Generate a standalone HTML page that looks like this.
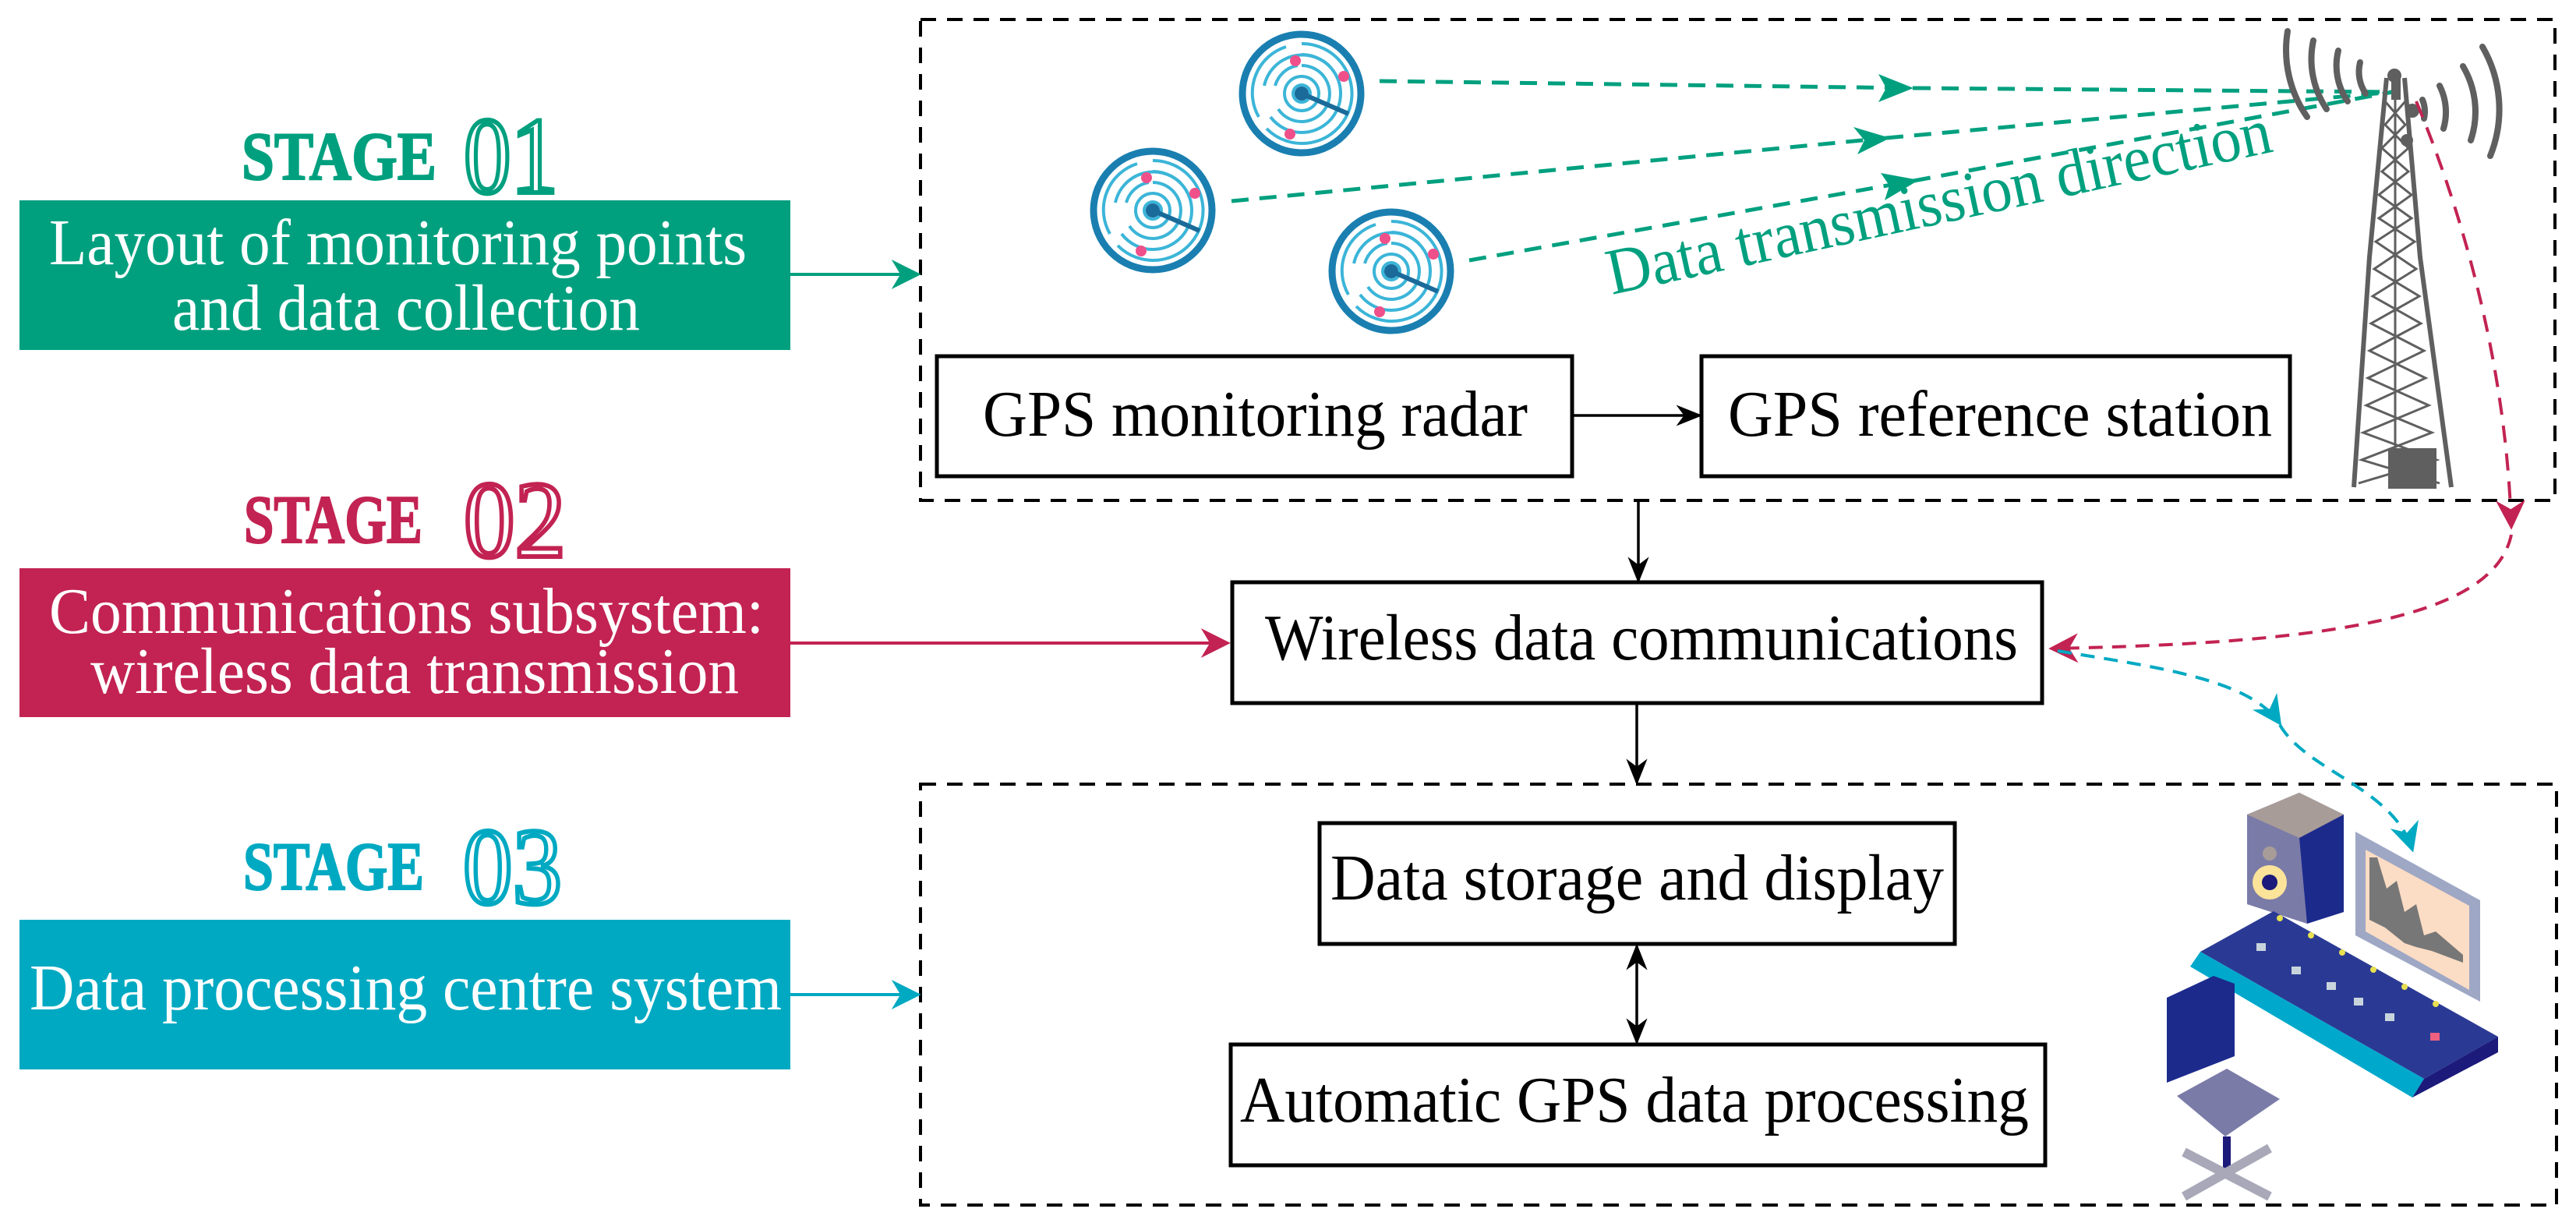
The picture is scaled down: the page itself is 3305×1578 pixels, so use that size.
<!DOCTYPE html>
<html><head><meta charset="utf-8"><style>html,body{margin:0;padding:0;background:#fff}svg{display:block}text{font-family:"Liberation Serif","Times New Roman",serif}</style></head>
<body>
<svg width="3305" height="1578" viewBox="0 0 3305 1578" xmlns="http://www.w3.org/2000/svg">
<defs>
<marker id="akb" viewBox="0 0 10 10" refX="9" refY="5" markerWidth="34" markerHeight="34" orient="auto-start-reverse" markerUnits="userSpaceOnUse"><path d="M0,1 L10,5 L0,9 L3,5 Z" fill="#000"/></marker>
<marker id="ag" viewBox="0 0 10 10" refX="9" refY="5" markerWidth="38" markerHeight="38" orient="auto" markerUnits="userSpaceOnUse"><path d="M0,0 L10,5 L0,10 L3,5 Z" fill="#00a07f"/></marker>
<marker id="ar" viewBox="0 0 10 10" refX="9" refY="5" markerWidth="38" markerHeight="38" orient="auto" markerUnits="userSpaceOnUse"><path d="M0,0 L10,5 L0,10 L3,5 Z" fill="#c22352"/></marker>
<marker id="ac" viewBox="0 0 10 10" refX="9" refY="5" markerWidth="38" markerHeight="38" orient="auto" markerUnits="userSpaceOnUse"><path d="M0,0 L10,5 L0,10 L3,5 Z" fill="#00a9c2"/></marker>
<g id="radar">
<circle r="76" fill="#fff" stroke="#1a7fb0" stroke-width="9"/>
<g fill="none" stroke="#3bb5d8" stroke-width="4">
<path d="M0,-64 A64,64 0 1 1 -45,45"/><path d="M-55,30 A62,62 0 0 1 -20,-60"/>
<path d="M0,-50 A50,50 0 1 1 -40,30"/><path d="M35,-36 A50,50 0 0 0 -48,-10"/>
<path d="M0,-36 A36,36 0 1 1 -30,20"/><path d="M-34,-10 A36,36 0 0 1 -5,-36"/>
<circle r="22"/><circle r="11"/>
</g>
<line x1="0" y1="0" x2="60" y2="26" stroke="#1a6a9a" stroke-width="6"/>
<circle r="9" fill="#1a6a9a"/>
<circle cx="-8" cy="-42" r="7" fill="#f0508a"/><circle cx="54" cy="-22" r="7" fill="#f0508a"/><circle cx="-15" cy="52" r="7" fill="#f0508a"/>
</g>
</defs>

<rect x="1181" y="25" width="2097" height="617" fill="none" stroke="#000" stroke-width="4" stroke-dasharray="20,14"/>
<rect x="1181" y="1006" width="2099" height="540" fill="none" stroke="#000" stroke-width="4" stroke-dasharray="20,14"/>

<rect x="25" y="257" width="989" height="192" fill="#00a07f"/>
<rect x="25" y="729" width="989" height="191" fill="#c22352"/>
<rect x="25" y="1180" width="989" height="192" fill="#00a9c2"/>
<g fill="#fff" font-size="84">
<text x="63" y="339" textLength="895" lengthAdjust="spacingAndGlyphs">Layout of monitoring points</text>
<text x="221" y="423" textLength="600" lengthAdjust="spacingAndGlyphs">and data collection</text>
<text x="63" y="812" textLength="917" lengthAdjust="spacingAndGlyphs">Communications subsystem:</text>
<text x="116" y="889" textLength="832" lengthAdjust="spacingAndGlyphs">wireless data transmission</text>
<text x="38" y="1295" textLength="965" lengthAdjust="spacingAndGlyphs">Data processing centre system</text>
</g>

<g font-weight="bold" font-size="88" stroke-width="2">
<text x="310" y="230" fill="#00a07f" stroke="#00a07f" textLength="250" lengthAdjust="spacingAndGlyphs">STAGE</text>
<text x="313" y="696" fill="#c22352" stroke="#c22352" textLength="229" lengthAdjust="spacingAndGlyphs">STAGE</text>
<text x="312" y="1141" fill="#00a9c2" stroke="#00a9c2" textLength="232" lengthAdjust="spacingAndGlyphs">STAGE</text>
</g>
<g font-size="140" fill="#fff" stroke-width="6">
<text x="595" y="247" stroke="#00a07f" textLength="121" lengthAdjust="spacingAndGlyphs">01</text>
<text x="595" y="714" stroke="#c22352" textLength="131" lengthAdjust="spacingAndGlyphs">02</text>
<text x="594" y="1159" stroke="#00a9c2" textLength="127" lengthAdjust="spacingAndGlyphs">03</text>
</g>

<line x1="1014" y1="352" x2="1178" y2="352" stroke="#00a07f" stroke-width="4" marker-end="url(#ag)"/>
<line x1="1014" y1="825" x2="1575" y2="825" stroke="#c22352" stroke-width="4" marker-end="url(#ar)"/>
<line x1="1014" y1="1276" x2="1178" y2="1276" stroke="#00a9c2" stroke-width="4" marker-end="url(#ac)"/>

<g fill="#fff" stroke="#000" stroke-width="5">
<rect x="1202" y="457" width="815" height="154"/>
<rect x="2183" y="457" width="755" height="154"/>
<rect x="1581" y="747" width="1039" height="155"/>
<rect x="1693" y="1056" width="815" height="155"/>
<rect x="1579" y="1340" width="1045" height="155"/>
</g>
<g font-size="84" fill="#000">
<text x="1261" y="559" textLength="699" lengthAdjust="spacingAndGlyphs">GPS monitoring radar</text>
<text x="2217" y="559" textLength="698" lengthAdjust="spacingAndGlyphs">GPS reference station</text>
<text x="1623" y="846" textLength="966" lengthAdjust="spacingAndGlyphs">Wireless data communications</text>
<text x="1707" y="1154" textLength="787" lengthAdjust="spacingAndGlyphs">Data storage and display</text>
<text x="1591" y="1439" textLength="1012" lengthAdjust="spacingAndGlyphs">Automatic GPS data processing</text>
</g>

<g stroke="#000" stroke-width="3.5" fill="none">
<line x1="2017" y1="533" x2="2181" y2="533" marker-end="url(#akb)"/>
<line x1="2102" y1="643" x2="2102" y2="745" marker-end="url(#akb)"/>
<line x1="2100" y1="903" x2="2100" y2="1004" marker-end="url(#akb)"/>
<line x1="2100" y1="1214" x2="2100" y2="1337" marker-start="url(#akb)" marker-end="url(#akb)"/>
</g>

<use href="#radar" x="1670" y="120"/>
<use href="#radar" x="1479" y="270"/>
<use href="#radar" x="1785" y="348"/>

<g stroke="#00a07f" stroke-width="5" stroke-dasharray="22,14" fill="none">
<line x1="1770" y1="104" x2="2455" y2="113"/>
<line x1="2455" y1="113" x2="3070" y2="118"/>
<line x1="1580" y1="258" x2="2420" y2="177"/>
<line x1="2420" y1="177" x2="3070" y2="118"/>
<line x1="1885" y1="334" x2="2455" y2="232"/>
<line x1="2455" y1="232" x2="3070" y2="118"/>
</g>
<g fill="#00a07f">
<path d="M2455,113 L2410,95 L2420,113 L2410,131Z"/>
<path d="M2425,177 L2378,163 L2392,180 L2383,198Z"/>
<path d="M2462,231 L2413,222 L2424,238 L2418,257Z"/>
</g>
<text x="0" y="0" font-size="84" fill="#00a07f" transform="translate(2068,378) rotate(-12.2)" textLength="870" lengthAdjust="spacingAndGlyphs">Data transmission direction</text>

<!-- tower -->
<g stroke="#5f5f5f" fill="none">
<g stroke-width="6">
<path d="M3062,100 L3040,330 L3020,625"/>
<path d="M3085,100 L3105,330 L3145,625"/>
</g>
<g stroke-width="3">
<path d="M3060,130 L3086,160 L3056,190 L3090,220 L3052,250 L3094,280 L3048,310 L3100,345 L3044,380 L3106,415 L3040,450 L3112,485 L3036,520 L3120,555 L3030,590 L3130,620"/>
<path d="M3086,130 L3060,160 L3090,190 L3056,220 L3094,250 L3052,280 L3098,310 L3046,345 L3104,380 L3042,415 L3110,450 L3038,485 L3116,520 L3032,555 L3126,590 L3026,620"/>
<path d="M3073,100 L3073,620"/>
</g>
<g stroke-width="8" stroke-linecap="round">
<path d="M2935,40 A150,150 0 0 0 2960,150"/>
<path d="M2968,52 A115,115 0 0 0 2985,140"/>
<path d="M3000,65 A80,80 0 0 0 3012,130"/>
<path d="M3028,80 A50,50 0 0 0 3035,120"/>
<path d="M3185,60 A160,160 0 0 1 3195,200"/>
<path d="M3160,85 A115,115 0 0 1 3170,180"/>
<path d="M3130,110 A75,75 0 0 1 3135,165"/>
<path d="M3108,128 A40,40 0 0 1 3110,152"/>
</g>
</g>
<g fill="#5f5f5f">
<circle cx="3072" cy="97" r="9"/><circle cx="3095" cy="142" r="9"/><circle cx="3088" cy="180" r="8"/>
<rect x="3068" y="100" width="12" height="28"/>
<rect x="3064" y="575" width="62" height="52"/>
</g>

<!-- red dashed -->
<path d="M3100,130 C3150,250 3215,450 3222,676" stroke="#c22352" stroke-width="4" stroke-dasharray="22,14" fill="none" marker-end="url(#ar)"/>
<path d="M3222,686 C3200,790 3000,825 2632,832" stroke="#c22352" stroke-width="4" stroke-dasharray="18,12" fill="none" marker-end="url(#ar)"/>

<!-- cyan dashed -->
<path d="M2640,835 C2760,855 2885,870 2925,928" stroke="#00a9c2" stroke-width="4" stroke-dasharray="18,12" fill="none" marker-end="url(#ac)"/>
<path d="M2925,930 C2960,990 3070,1010 3095,1090" stroke="#00a9c2" stroke-width="4" stroke-dasharray="18,12" fill="none" marker-end="url(#ac)"/>

<!-- workstation -->
<g>
<path d="M2883,1045 L2950,1017 L3007,1045 L3007,1170 L2960,1185 L2883,1160Z" fill="#7b7ba8"/>
<path d="M2883,1045 L2950,1017 L3007,1045 L2950,1075Z" fill="#a89c98"/>
<path d="M2950,1075 L3007,1045 L3007,1170 L2960,1185Z" fill="#1c2a8c"/>
<circle cx="2912" cy="1132" r="22" fill="#fbe39a"/><circle cx="2912" cy="1132" r="10" fill="#1c1a7a"/>
<circle cx="2912" cy="1095" r="9" fill="#a89c98"/>
<path d="M3022,1067 L3182,1155 L3182,1285 L3022,1200Z" fill="#9ea7c4"/>
<path d="M3035,1090 L3168,1162 L3168,1270 L3035,1195Z" fill="#fbdcc4"/>
<path d="M3040,1100 L3050,1100 L3062,1140 L3075,1130 L3085,1170 L3100,1160 L3110,1200 L3125,1195 L3160,1225 L3160,1235 L3120,1220 L3100,1215 L3085,1210 L3060,1190 L3040,1180Z" fill="#777"/>
<path d="M2823,1221 L2917,1169 L3205,1330 L3110,1384Z" fill="#2a3a94"/>
<path d="M2810,1240 L2823,1221 L3110,1384 L3095,1408Z" fill="#00a9cc"/>
<path d="M3110,1384 L3205,1330 L3205,1350 L3095,1408Z" fill="#1c1a7a"/>
<g fill="#c8d4dc"><rect x="2895" y="1210" width="12" height="10"/><rect x="2940" y="1240" width="12" height="10"/><rect x="2985" y="1260" width="12" height="10"/><rect x="3020" y="1280" width="12" height="10"/><rect x="3060" y="1300" width="12" height="10"/></g>
<g fill="#e8e050"><circle cx="2925" cy="1178" r="4"/><circle cx="2965" cy="1200" r="4"/><circle cx="3005" cy="1222" r="4"/><circle cx="3045" cy="1244" r="4"/><circle cx="3085" cy="1266" r="4"/><circle cx="3125" cy="1288" r="4"/></g>
<rect x="3118" y="1325" width="12" height="10" fill="#f06080"/>
<path d="M2780,1280 L2840,1252 L2867,1262 L2867,1355 L2780,1389Z" fill="#1c2a8c"/>
<path d="M2793,1406 L2857,1371 L2925,1410 L2855,1458Z" fill="#7b7ba8"/>
<rect x="2852" y="1458" width="10" height="42" fill="#1c1a7a"/>
<path d="M2802,1478 L2912,1535 M2912,1473 L2802,1535" stroke="#a8a8b8" stroke-width="12"/>
</g>
</svg>
</body></html>
